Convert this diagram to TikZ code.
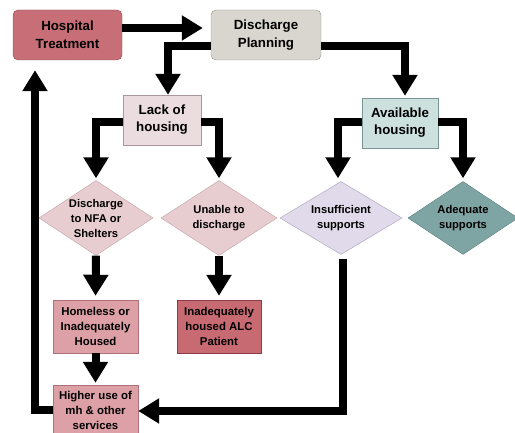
\documentclass[tikz,border=0pt]{standalone}
\usepackage{fontspec}
\setmainfont{Liberation Sans}
\usepackage{xcolor}
\usetikzlibrary{arrows.meta, positioning, shapes.geometric}

\definecolor{hospred}{RGB}{200,110,118}
\definecolor{hospedge}{RGB}{140,70,80}
\definecolor{plangray}{RGB}{216,214,206}
\definecolor{planedge}{RGB}{150,146,138}
\definecolor{lackpink}{RGB}{234,220,223}
\definecolor{lackedge}{RGB}{170,150,155}
\definecolor{availblue}{RGB}{204,224,222}
\definecolor{availedge}{RGB}{120,150,150}
\definecolor{dpink}{RGB}{232,205,208}
\definecolor{dpinkedge}{RGB}{190,160,165}
\definecolor{dlilac}{RGB}{224,218,234}
\definecolor{dlilacedge}{RGB}{165,158,185}
\definecolor{dteal}{RGB}{127,164,164}
\definecolor{dtealedge}{RGB}{85,125,125}
\definecolor{rosebox}{RGB}{220,160,166}
\definecolor{roseedge}{RGB}{175,112,120}
\definecolor{alcred}{RGB}{200,106,114}
\definecolor{alcedge}{RGB}{140,60,70}

\begin{document}
\begin{tikzpicture}[
    x=1pt, y=-1pt,
    topbox/.style={draw, rounded corners=5pt, minimum width=109pt, minimum height=50pt,
                align=center, font=\bfseries\fontsize{13.3}{18}\selectfont},
    midbox/.style={draw, minimum height=50pt, align=center,
                font=\bfseries\fontsize{13.3}{17}\selectfont},
    lowbox/.style={draw, minimum width=85pt, minimum height=53pt, inner sep=1pt,
                align=center, font=\bfseries\fontsize{11.4}{15}\selectfont},
    choice/.style={draw, diamond, inner sep=-8pt, align=center,
                font=\bfseries\fontsize{11.2}{15}\selectfont},
    arr/.style={-{Triangle[length=21pt, width=24pt]}, line width=8pt}
]
\useasboundingbox (0,0) rectangle (515,433);

\node[topbox, fill=hospred, draw=hospedge] (hosp) at (67.5,35) {Hospital\\Treatment};
\node[topbox, fill=plangray, draw=planedge, minimum width=110pt] (plan) at (266,35) {Discharge\\Planning};
\node[midbox, fill=lackpink, draw=lackedge, minimum width=78pt] (lack) at (162,120) {Lack of\\housing};
\node[midbox, fill=availblue, draw=availedge, minimum width=76pt] (avail) at (400,123) {Available\\housing};

\node[choice, fill=dpink, draw=dpinkedge, minimum width=114pt, minimum height=75pt] (nfa) at (96,218)
    {Discharge\\to NFA or\\Shelters};
\node[choice, fill=dpink, draw=dpinkedge, minimum width=116pt, minimum height=75pt] (unable) at (219,218)
    {Unable to\\discharge};
\node[choice, fill=dlilac, draw=dlilacedge, minimum width=122pt, minimum height=73pt] (insuff) at (341,218)
    {Insufficient\\supports};
\node[choice, fill=dteal, draw=dtealedge, minimum width=110pt, minimum height=73pt] (adeq) at (463,218)
    {Adequate\\supports};

\node[lowbox, fill=rosebox, draw=roseedge] (homeless) at (95.5,326.5) {Homeless or\\Inadequately\\Housed};
\node[lowbox, fill=alcred, draw=alcedge, minimum width=84pt] (alc) at (219,326.5) {Inadequately\\housed ALC\\Patient};
\node[lowbox, fill=rosebox, draw=roseedge, minimum height=50pt] (higher) at (95.5,410) {Higher use of\\mh \& other\\services};

% top row and the two branches
\draw[arr, shorten >=8pt] ([yshift=7pt]hosp.east) -- ([yshift=7pt]plan.west);
\draw[arr] ([yshift=-11pt]plan.west) -| ([xshift=6pt]lack.north);
\draw[arr, shorten >=2pt] ([yshift=-11pt]plan.east) -| ([xshift=5pt]avail.north);

\draw[arr, shorten >=2pt] ([yshift=-2pt]lack.west) -| (nfa.north);
\draw[arr, shorten >=2pt] ([yshift=-2pt]lack.east) -| (unable.north);
\draw[arr, shorten >=3pt] ([yshift=1pt]avail.west) -| ([xshift=-3pt]insuff.north);
\draw[arr, shorten >=3pt] ([yshift=1pt]avail.east) -| (adeq.north);

% outcomes
\draw[arr, shorten >=4pt] (nfa.south) -- (homeless.north);
\draw[arr, shorten >=4pt] (unable.south) -- (alc.north);
\draw[arr, shorten >=2pt] (homeless.south) -- (higher.north);
\draw[arr, shorten <=4pt] ([xshift=2pt]insuff.south) |- ([yshift=-1pt]higher.east);
\draw[arr, shorten >=10pt] (higher.west) -| ([xshift=-32.5pt]hosp.south);
\end{tikzpicture}
\end{document}
